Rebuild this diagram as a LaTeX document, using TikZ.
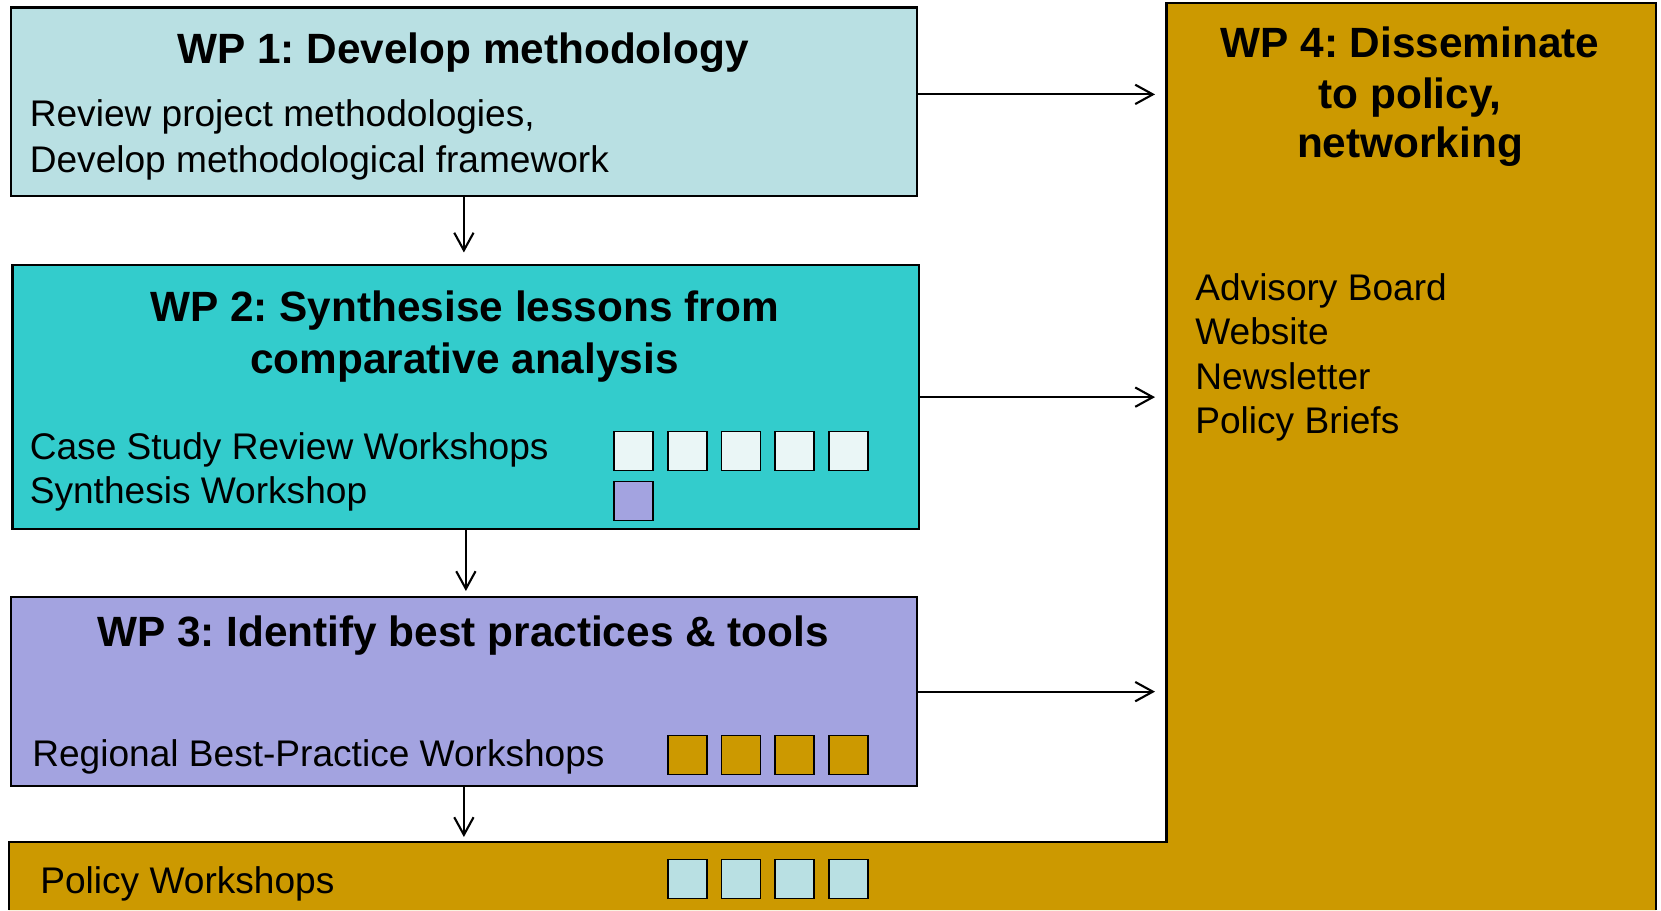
\documentclass[tikz,border=0pt]{standalone}
\usepackage{fontspec}
\setmainfont{Liberation Sans}
\usetikzlibrary{arrows.meta,positioning,calc}
\frenchspacing

\definecolor{wpone}{RGB}{185,224,227}
\definecolor{wptwo}{RGB}{51,204,204}
\definecolor{wpthree}{RGB}{163,163,224}
\definecolor{wpfour}{RGB}{204,153,0}
\definecolor{slotlight}{RGB}{234,246,246}

\tikzset{
  wpbox/.style={draw=black, line width=1.3pt, minimum width=18.13cm, anchor=north west, inner sep=0pt},
  wptitle/.style={font=\fontsize{24.1}{29.6}\selectfont\bfseries, anchor=base, inner sep=0pt},
  wptext/.style={font=\fontsize{21.1}{26}\selectfont, anchor=base west, inner sep=0pt},
  slot/.style={draw=black, line width=1.1pt, minimum size=0.78cm, inner sep=0pt},
  flow/.style={-{Straight Barb[length=10pt,width=11pt]}, line width=1.2pt},
}

\begin{document}
\begin{tikzpicture}
\useasboundingbox (0,0) rectangle (33.22,18.2);

% WP 4 frame, running round under the other packages
\draw[line width=1.3pt, fill=wpfour] (0.18,0) -- (0.18,1.36) coordinate (pol)
  -- (23.33,1.36) -- (23.33,18.14) coordinate (wp4) -- (33.12,18.14) -- (33.12,0);

% WP boxes
\node[wpbox, fill=wpone, minimum height=3.77cm] (wp1) at (0.19,18.07) {};
\node[wpbox, fill=wptwo, minimum height=5.28cm] (wp2) at (0.23,12.92) {};
\node[wpbox, fill=wpthree, minimum height=3.78cm] (wp3) at (0.19,6.28) {};

% WP 1
\node[wptitle] (wp1title) at (9.26,16.93) {WP 1: Develop methodology};
\node[wptext] (wp1a) at (0.59,15.66) {Review project methodologies,};
\node[wptext] (wp1b) at (0.59,14.75) {Develop methodological framework};

% WP 2
\node[wptitle] (wp2title) at (9.29,11.78) {WP 2: Synthesise lessons from};
\node[wptitle] (wp2titleb) at (9.29,10.74) {comparative analysis};
\node[wptext] (wp2a) at (0.59,9.02) {Case Study Review Workshops};
\node[wptext] (wp2b) at (0.59,8.14) {Synthesis Workshop};
\foreach \i in {0,...,4}
  \node[slot, fill=slotlight] (case\i) at ({12.67+1.075*\i},9.18) {};
\node[slot, fill=wpthree] (synth) at (12.67,8.18) {};

% WP 3
\node[wptitle] (wp3title) at (9.26,5.28) {WP 3: Identify best practices \& tools};
\node[wptext] (wp3a) at (0.64,2.87) {Regional Best-Practice Workshops};
\foreach \i in {1,...,4}
  \node[slot, fill=wpfour] (reg\i) at ({12.67+1.075*\i},3.1) {};

% policy workshops
\node[wptext] (polw) at (0.8,0.34) {Policy Workshops};
\foreach \i in {1,...,4}
  \node[slot, fill=wpone] (pw\i) at ({12.67+1.075*\i},0.62) {};

% WP 4
\node[wptitle] (wp4title) at (28.2,17.04) {WP 4: Disseminate};
\node[wptitle] (wp4titleb) at (28.2,16.02) {to policy,};
\node[wptitle] (wp4titlec) at (28.2,15.04) {networking};
\node[wptext] (adv) at (23.9,12.2) {Advisory Board};
\node[wptext] (web) at (23.9,11.32) {Website};
\node[wptext] (news) at (23.9,10.42) {Newsletter};
\node[wptext] (brief) at (23.9,9.54) {Policy Briefs};

% arrows
\draw[flow, shorten >=0.23cm] (wp1.south) -- (wp1.south |- wp2.north);
\draw[flow, shorten >=0.1cm] (wp2.south) -- (wp2.south |- wp3.north);
\draw[flow, shorten >=0.1cm] (wp3.south) -- (wp3.south |- pol);
\draw[flow, shorten >=0.23cm] ([yshift=0.15cm]wp1.east) -- ([yshift=0.15cm]wp1.east -| wp4);
\draw[flow, shorten >=0.23cm] (wp2.east) -- (wp2.east -| wp4);
\draw[flow, shorten >=0.23cm] (wp3.east) -- (wp3.east -| wp4);
\end{tikzpicture}
\end{document}
